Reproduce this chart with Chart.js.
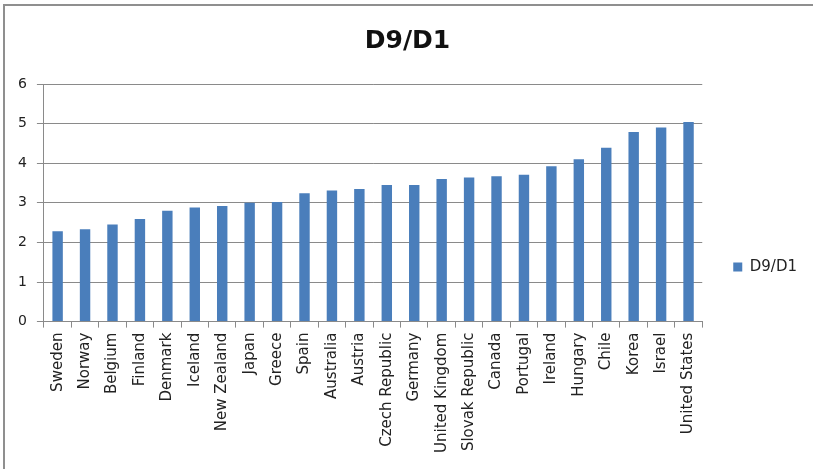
<!DOCTYPE html>
<html>
<head>
<meta charset="utf-8">
<script src="https://cdn.jsdelivr.net/npm/chart.js@4/dist/chart.umd.min.js"></script>
<style>
  html, body { margin: 0; padding: 0; background: #fff; }
  #wrap { position: relative; width: 813px; height: 469px; overflow: hidden; }
  #frame { position: absolute; left: 3px; top: 4px; right: -4px; bottom: -4px;
           border-top: 2px solid #8f8f8f; border-left: 2px solid #8f8f8f; pointer-events: none; }
  canvas { position: absolute; left: 0; top: 0; }
</style>
</head>
<body>
<div id="wrap">
  <canvas id="c" width="813" height="469"></canvas>
  <div id="frame"></div>
</div>
<script>
// Ratio of the 9th to the 1st income decile, by country
const countries = [
  'Sweden', 'Norway', 'Belgium', 'Finland', 'Denmark', 'Iceland', 'New Zealand',
  'Japan', 'Greece', 'Spain', 'Australia', 'Austria', 'Czech Republic', 'Germany',
  'United Kingdom', 'Slovak Republic', 'Canada', 'Portugal', 'Ireland', 'Hungary',
  'Chile', 'Korea', 'Israel', 'United States'
];
const d9d1 = [
  2.28, 2.33, 2.45, 2.59, 2.80, 2.88, 2.92,
  3.00, 3.02, 3.24, 3.31, 3.35, 3.45, 3.45,
  3.60, 3.64, 3.67, 3.71, 3.92, 4.10,
  4.39, 4.79, 4.90, 5.04
];
const seriesName = 'D9/D1';
const yTicks = [0, 1, 2, 3, 4, 5, 6];

const FONT = 'DejaVu Sans';
const GRID = '#8a8a8a';
const BLUE = '#4a7ebb';

new Chart(document.getElementById('c'), {
  type: 'bar',
  data: {
    labels: countries,
    datasets: [{
      label: seriesName,
      data: d9d1,
      backgroundColor: BLUE,
      borderWidth: 0,
      categoryPercentage: 1,
      barPercentage: 0.38
    }]
  },
  options: {
    responsive: false,
    animation: false,
    devicePixelRatio: 1,
    layout: { padding: { left: 8, right: 6, top: 4, bottom: 11 } },
    plugins: {
      title: {
        display: true,
        text: seriesName,
        color: '#111',
        font: { family: FONT, size: 25, weight: 'bold' },
        padding: { top: 22, bottom: 28 }
      },
      legend: {
        display: true,
        position: 'right',
        // empty legend heading only pushes the single entry lower in its column
        title: {
          display: true,
          text: '',
          font: { family: FONT, size: 10 },
          padding: { top: 0, bottom: 60 }
        },
        labels: {
          boxWidth: 9,
          boxHeight: 9,
          padding: 31,
          color: '#222',
          font: { family: FONT, size: 15 }
        }
      },
      tooltip: { enabled: false }
    },
    scales: {
      x: {
        grid: {
          offset: true,
          drawOnChartArea: false,
          drawTicks: true,
          tickLength: 6,
          color: GRID
        },
        border: { display: true, color: GRID, width: 1 },
        ticks: {
          minRotation: 90,
          maxRotation: 90,
          autoSkip: false,
          padding: 5,
          color: '#222',
          font: { family: FONT, size: 15 }
        }
      },
      y: {
        min: 0,
        max: 6,
        afterBuildTicks: (axis) => { axis.ticks = yTicks.map(v => ({ value: v })); },
        grid: {
          color: GRID,
          lineWidth: 1,
          drawTicks: true,
          tickLength: 7
        },
        border: { display: true, color: GRID, width: 1 },
        ticks: {
          padding: 10,
          color: '#222',
          font: { family: FONT, size: 14 }
        }
      }
    }
  }
});
</script>
</body>
</html>
